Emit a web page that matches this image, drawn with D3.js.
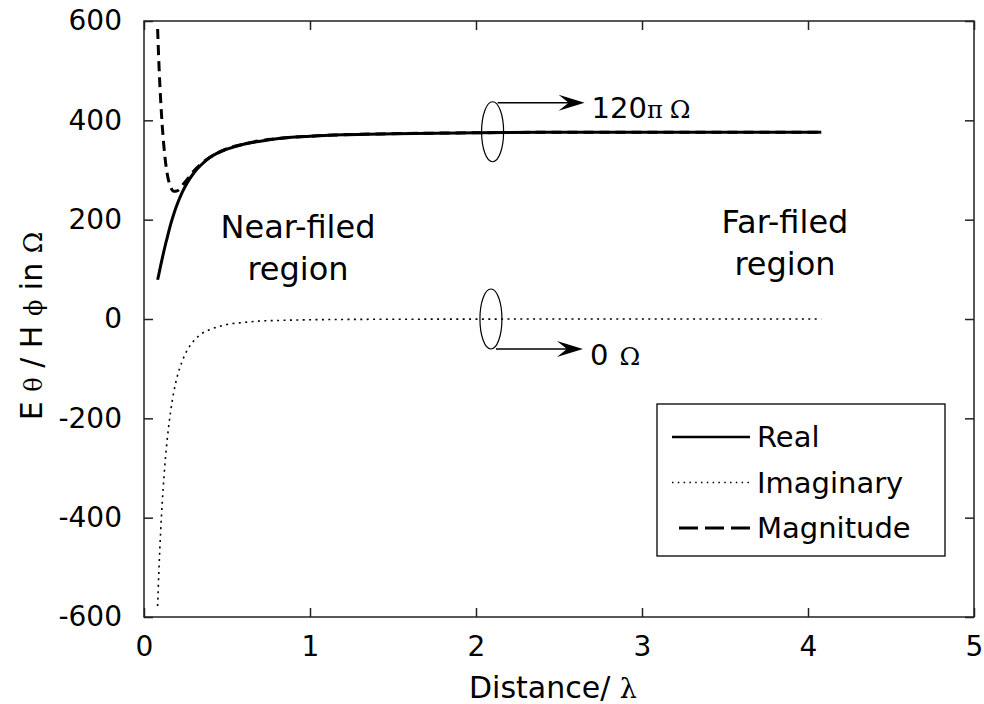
<!DOCTYPE html>
<html>
<head>
<meta charset="utf-8">
<script src="https://cdn.jsdelivr.net/npm/d3@7"></script>
<style>
	html, body { margin: 0; padding: 0; background: #fff; }
	#chart { width: 984px; height: 704px; }
</style>
</head>
<body>
<div id="chart"></div>
<script>
//data
const distance = [0.082, 0.09, 0.1, 0.11, 0.12, 0.13, 0.14, 0.16, 0.18, 0.2, 0.23, 0.26, 0.3, 0.35, 0.4, 0.5, 0.6, 0.7, 0.8, 1.0, 1.2, 1.5, 2.0, 2.5, 3.0, 3.5, 4.08];
const realPart = [79, 91, 107, 122, 137, 151, 164, 190, 212, 231, 255, 274, 294, 312, 326, 342, 352, 358, 363, 368, 371, 373, 375, 376, 376, 376, 376];
const imagPart = [-578, -505, -430, -369, -319, -277, -242, -187, -146, -116, -85, -63, -44, -29, -21, -11, -7, -4, -3, -1.5, -0.9, -0.5, -0.2, -0.1, -0.1, 0, 0];
const magnitude = [584, 513, 443, 389, 347, 315, 292, 266, 257, 258, 269, 281, 298, 314, 326, 343, 352, 359, 363, 368, 371, 373, 375, 376, 376, 376, 376];

const xTicks = [0, 1, 2, 3, 4, 5];
const yTicks = [-600, -400, -200, 0, 200, 400, 600];
const seriesNames = ['Real', 'Imaginary', 'Magnitude'];

render();

function render() {
	let props = {
		width: 984,
		height: 704,
		left: 144,
		right: 974,
		top: 21,
		bottom: 617,
		font: '"DejaVu Sans", sans-serif',
		greek: '"DejaVu Serif", serif',
	};
	createVisualization(d3.select('#chart'), props);
}

function createVisualization(container, props) {
	let { width, height, left, right, top, bottom, font, greek } = props;

	const x = d3.scaleLinear().domain([0, 5]).range([left, right]);
	const y = d3.scaleLinear().domain([-600, 600]).range([bottom, top]);
	const tickLen = 9;
	const axisColor = '#222';
	const plain = (d) => String(d);

	let svg = container
		.append('svg')
		.attr('width', width)
		.attr('height', height)
		.style('font-family', font);

	svg.append('defs')
		.append('clipPath')
		.attr('id', 'plot-clip')
		.append('rect')
		.attr('x', left)
		.attr('y', top)
		.attr('width', right - left)
		.attr('height', bottom - top);

	//axes, ticks inward on all sides
	let axes = svg.append('g').attr('class', 'axes');

	axes.append('g')
		.attr('transform', translation(0, bottom))
		.call(d3.axisBottom(x).tickValues(xTicks).tickSizeInner(-tickLen).tickSizeOuter(0).tickPadding(19).tickFormat(plain));
	axes.append('g')
		.attr('transform', translation(0, top))
		.call(d3.axisTop(x).tickValues(xTicks).tickSizeInner(-tickLen).tickSizeOuter(0).tickFormat(''));
	axes.append('g')
		.attr('transform', translation(left, 0))
		.call(d3.axisLeft(y).tickValues(yTicks).tickSizeInner(-tickLen).tickSizeOuter(0).tickPadding(22).tickFormat(plain));
	axes.append('g')
		.attr('transform', translation(right, 0))
		.call(d3.axisRight(y).tickValues(yTicks).tickSizeInner(-tickLen).tickSizeOuter(0).tickFormat(''));

	axes.selectAll('.domain').remove();
	axes.selectAll('.tick line').attr('stroke', axisColor).attr('stroke-width', 1.5);
	axes.selectAll('.tick text')
		.attr('font-family', font)
		.attr('font-size', 28)
		.attr('fill', '#000');

	axes.append('rect')
		.attr('x', left)
		.attr('y', top)
		.attr('width', right - left)
		.attr('height', bottom - top)
		.attr('fill', 'none')
		.attr('stroke', axisColor)
		.attr('stroke-width', 1.5);

	//axis titles
	svg.append('text')
		.attr('x', 553)
		.attr('y', 698)
		.attr('text-anchor', 'middle')
		.attr('font-size', 30)
		.call((t) => {
			t.append('tspan').text('Distance/ ');
			t.append('tspan').attr('font-family', greek).attr('font-size', 27).text('λ');
		});

	svg.append('text')
		.attr('transform', `${translation(42, 326)} rotate(-90)`)
		.attr('text-anchor', 'middle')
		.attr('font-size', 30)
		.call((t) => {
			t.append('tspan').text('E ');
			t.append('tspan').attr('font-family', greek).attr('font-size', 24).text('θ');
			t.append('tspan').text(' / H ');
			t.append('tspan').attr('font-family', greek).attr('font-size', 24).text('ϕ');
			t.append('tspan').text(' in ');
			t.append('tspan').attr('font-family', greek).attr('font-size', 26).text('Ω');
		});

	//series
	const series = [
		{ name: seriesNames[0], values: realPart, width: 3, dash: null },
		{ name: seriesNames[1], values: imagPart, width: 1.6, dash: '2,4.4' },
		{ name: seriesNames[2], values: magnitude, width: 3, dash: '10,6' },
	];

	let line = d3
		.line()
		.curve(d3.curveMonotoneX)
		.x((d) => x(d[0]))
		.y((d) => y(d[1]));

	svg.append('g')
		.attr('clip-path', 'url(#plot-clip)')
		.selectAll('path')
		.data(series)
		.enter()
		.append('path')
		.attr('d', (s) => line(distance.map((dx, i) => [dx, s.values[i]])))
		.attr('fill', 'none')
		.attr('stroke', '#000')
		.attr('stroke-width', (s) => s.width)
		.attr('stroke-dasharray', (s) => s.dash);

	//annotations
	let notes = svg.append('g').attr('class', 'notes');

	function marker(cx, cy, fromTop, label) {
		notes.append('ellipse')
			.attr('cx', cx)
			.attr('cy', cy)
			.attr('rx', 11)
			.attr('ry', 30)
			.attr('fill', 'none')
			.attr('stroke', '#000')
			.attr('stroke-width', 1.2);
		let ay = fromTop ? cy - 29 : cy + 30;
		let x0 = cx + 5;
		let x1 = cx + 92;
		notes.append('line')
			.attr('x1', x0)
			.attr('y1', ay)
			.attr('x2', x1 - 8)
			.attr('y2', ay)
			.attr('stroke', '#000')
			.attr('stroke-width', 1.4);
		notes.append('path')
			.attr('d', `M${x1},${ay} L${x1 - 26},${ay - 8} L${x1 - 16},${ay} L${x1 - 26},${ay + 8} Z`)
			.attr('fill', '#000');
		let text = notes.append('text')
			.attr('x', x1 + 7)
			.attr('y', ay + (fromTop ? 15 : 16))
			.attr('font-size', 29);
		label(text);
	}

	marker(x(2.1), y(377), true, (t) => {
		t.append('tspan').text('120');
		t.append('tspan').attr('font-family', greek).attr('font-size', 24).text('π');
		t.append('tspan').attr('font-family', greek).attr('font-size', 25).attr('dx', 7).text('Ω');
	});
	marker(x(2.09), y(0), false, (t) => {
		t.append('tspan').text('0');
		t.append('tspan').attr('font-family', greek).attr('font-size', 25).attr('dx', 11).text('Ω');
	});

	const regions = [
		{ lines: ['Near-filed', 'region'], cx: 298, y0: 238 },
		{ lines: ['Far-filed', 'region'], cx: 785, y0: 233 },
	];
	regions.forEach((r) => {
		r.lines.forEach((l, i) => {
			notes.append('text')
				.attr('x', r.cx)
				.attr('y', r.y0 + i * 42)
				.attr('text-anchor', 'middle')
				.attr('font-size', 32)
				.text(l);
		});
	});

	//legend
	let legend = svg.append('g').attr('class', 'legend').attr('transform', translation(657, 404));
	legend.append('rect')
		.attr('width', 288)
		.attr('height', 152)
		.attr('fill', '#fff')
		.attr('stroke', '#000')
		.attr('stroke-width', 1.3);

	const legendStyles = [
		{ width: 2.4, dash: null, x1: 15 },
		{ width: 1.3, dash: '1.5,4.3', x1: 15 },
		{ width: 2.8, dash: '19,7', x1: 22 },
	];

	let item = legend
		.selectAll('.item')
		.data(series)
		.enter()
		.append('g')
		.attr('class', 'item')
		.attr('transform', (d, i) => translation(0, 33 + i * 45.5));

	item.append('line')
		.attr('x1', (d, i) => legendStyles[i].x1)
		.attr('x2', 93)
		.attr('stroke', '#000')
		.attr('stroke-width', (d, i) => legendStyles[i].width)
		.attr('stroke-dasharray', (d, i) => legendStyles[i].dash);

	item.append('text')
		.attr('x', 100)
		.attr('dy', '0.36em')
		.attr('font-size', 29)
		.text((d) => d.name);
}

//utils
function translation(x, y) {
	return `translate(${x}, ${y})`;
}
</script>
</body>
</html>
